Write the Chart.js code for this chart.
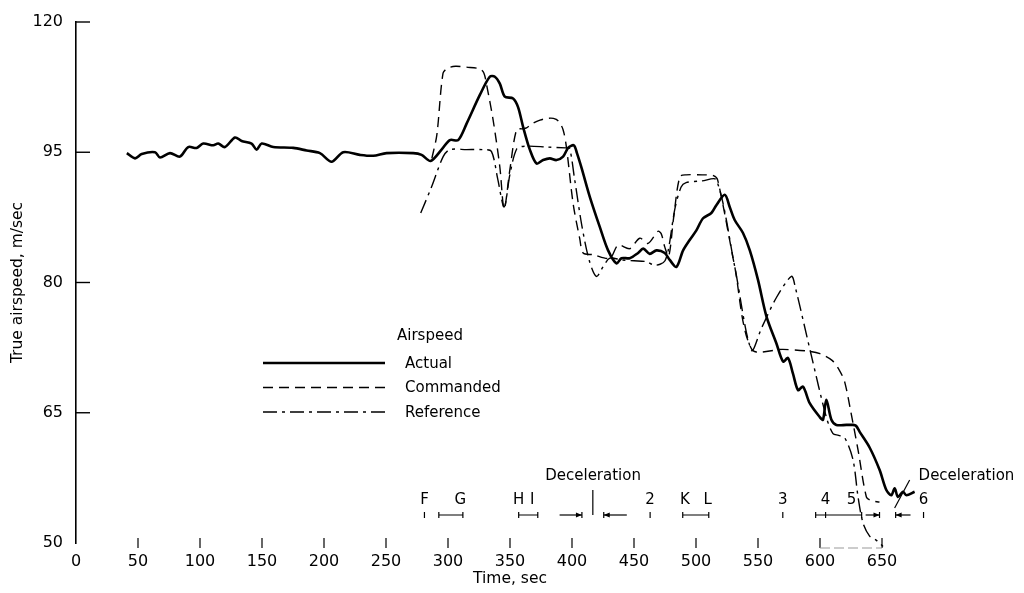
<!DOCTYPE html>
<html>
<head>
<meta charset="utf-8">
<script src="https://cdn.jsdelivr.net/npm/chart.js@4.4.0/dist/chart.umd.min.js"></script>
<style>
html, body { margin: 0; padding: 0; background: #fff; }
</style>
</head>
<body>
<canvas id="myChart" width="1024" height="593"></canvas>
<script>
// time axis in seconds, airspeed in m/sec
var actualTime = [41, 47.6, 53, 63.7, 67.7, 75.8, 83.8, 90.5, 97.3, 102.6, 110.7, 114.7, 120.1, 128.2, 133.6, 141.6, 145.7, 149.7, 159.1, 175.2, 186, 196.7, 206.1, 215.5, 228.9, 239.7, 250.4, 271.9, 278.7, 286, 294.8, 301.5, 308.2, 315, 325.7, 333.7, 337.8, 341.8, 345.8, 352.5, 356.5, 360.6, 366, 371.4, 376.7, 382.1, 387.5, 392.8, 396.9, 401.5, 404, 407.7, 414.3, 422.4, 429.1, 435.9, 439.9, 446.6, 453.3, 457.4, 462.7, 468.1, 474.8, 478.8, 484.2, 489.6, 494.9, 500.3, 505.7, 512.4, 516.4, 523.2, 527.2, 531.2, 537.9, 543.4, 550, 556.8, 564.8, 570.2, 574.2, 578.2, 582.3, 586.3, 591.7, 599.8, 602.4, 605.1, 609.2, 613.2, 621.3, 626.6, 629, 632, 640, 648.1, 653.5, 657.5, 660.2, 662.9, 666.9, 669.6, 676.3];
var actualSpeed = [94.9, 94.3, 94.8, 95.0, 94.4, 94.9, 94.5, 95.6, 95.5, 96.0, 95.8, 96.0, 95.6, 96.7, 96.3, 96.0, 95.3, 96.0, 95.6, 95.5, 95.2, 94.9, 93.9, 95.0, 94.7, 94.6, 94.9, 94.9, 94.7, 94.0, 95.3, 96.4, 96.4, 98.3, 101.6, 103.7, 103.7, 102.9, 101.4, 101.2, 100.2, 97.9, 95.3, 93.7, 94.1, 94.3, 94.1, 94.5, 95.5, 95.8, 94.9, 93.2, 89.9, 86.4, 83.7, 82.2, 82.8, 82.8, 83.4, 83.9, 83.3, 83.7, 83.4, 82.6, 81.8, 83.7, 84.9, 86.0, 87.4, 88.0, 88.9, 90.1, 88.7, 87.2, 85.7, 83.7, 80.3, 76.1, 73.0, 70.9, 71.3, 69.5, 67.6, 68.0, 66.1, 64.5, 64.2, 66.5, 64.2, 63.6, 63.6, 63.6, 63.5, 62.8, 61.0, 58.4, 56.1, 55.5, 56.3, 55.3, 55.9, 55.5, 55.9];

var commandedTime = [287, 291, 296, 300, 306, 315, 325.7, 329, 331.5, 336.4, 341.8, 345.3, 349.9, 355.3, 360, 363.3, 368, 374.2, 380, 385, 389, 392.8, 395.5, 400.9, 406.3, 409, 417, 430.5, 437.2, 446.6, 454.6, 461.3, 469.4, 472, 474.8, 478, 482, 487, 492, 505, 514, 517.5, 531, 545, 570, 590, 600, 610, 616, 620, 625, 630.7, 637.4, 641, 648];
var commandedSpeed = [94.3, 97, 104.1, 104.7, 104.9, 104.8, 104.6, 104.1, 102.5, 98.7, 93.3, 88.5, 93.0, 97.6, 97.7, 97.8, 98.3, 98.7, 98.9, 98.9, 98.6, 97.6, 95.6, 89.1, 85.0, 83.4, 83.2, 82.8, 84.3, 83.9, 85.1, 84.5, 85.9, 85.6, 84.1, 83.0, 87.5, 92.2, 92.4, 92.4, 92.3, 91.8, 82.0, 72.3, 72.3, 72.1, 71.8, 71.0, 69.8, 68.5, 65.0, 60.7, 55.3, 54.9, 54.7];

var referenceTime = [278, 286.7, 296.1, 301.5, 315, 328.3, 335, 340, 345.3, 350, 355.5, 362, 380, 395, 398, 402, 408, 414, 419.7, 425, 430.5, 440, 450, 460, 466, 471, 475, 478, 483, 488, 492, 505, 516.5, 531, 544.7, 553, 565, 577, 580, 593, 605.1, 610.5, 615, 620, 626.6, 630.7, 634.7, 640, 645.5, 650.8];
var referenceSpeed = [88.0, 91.0, 94.5, 95.3, 95.3, 95.3, 95.1, 92.0, 88.7, 92.5, 95.4, 95.7, 95.6, 95.5, 95.5, 92.0, 86.5, 82.5, 80.7, 81.8, 82.8, 82.6, 82.5, 82.4, 82.0, 82.1, 82.5, 84.0, 88.5, 91.0, 91.5, 91.7, 91.8, 82.0, 72.2, 74.8, 78.3, 80.7, 79.5, 71.6, 64.5, 62.6, 62.4, 62.1, 59.6, 55.3, 52.3, 50.8, 50.3, 49.6];

var yTickValues = [50, 65, 80, 95, 110];
var yTickLabels = ['50', '65', '80', '95', '120'];

var eventLabels = ['F', 'G', 'H', 'I', '2', 'K', 'L', '3', '4', '5', '6'];
var eventTimes = [281, 310, 357, 368, 463, 491, 509.5, 570, 604.5, 625.5, 683.5];
var pointMarks = [281, 463, 570, 604.5, 683.5];
var spanStart = [292.6, 357, 489.3, 596.5];
var spanEnd = [312, 372.4, 510.3, 633.6];
var arrowStart = [390, 425.6, 636.8, 661];
var arrowEnd = [408, 444.2, 648, 673];
var arrowDir = ['right', 'left', 'right', 'left'];

function toPoints(xs, ys) {
    return xs.map(function (t, i) { return { x: t, y: ys[i] }; });
}

var FONT = "'DejaVu Sans', sans-serif";

var decor = {
    id: 'decor',
    afterDraw: function (chart) {
        var ctx = chart.ctx;
        var xs = chart.scales.x;
        var ys = chart.scales.y;
        var area = chart.chartArea;
        var bottom = area.bottom;
        ctx.save();
        ctx.strokeStyle = '#000';
        ctx.fillStyle = '#000';

        // y ticks pointing inward
        ctx.lineWidth = 1.4;
        yTickValues.forEach(function (v) {
            if (v === 50) return;
            var y = ys.getPixelForValue(v);
            ctx.beginPath();
            ctx.moveTo(area.left, y);
            ctx.lineTo(area.left + 14, y);
            ctx.stroke();
        });

        // x ticks, short marks above labels
        ctx.lineWidth = 1.2;
        for (var t = 50; t <= 650; t += 50) {
            var x = xs.getPixelForValue(t);
            ctx.beginPath();
            ctx.moveTo(x, bottom - 5);
            ctx.lineTo(x, bottom + 5);
            ctx.stroke();
        }
        ctx.strokeStyle = '#999';
        ctx.setLineDash([10, 4]);
        ctx.beginPath();
        ctx.moveTo(xs.getPixelForValue(600), bottom + 5);
        ctx.lineTo(xs.getPixelForValue(650), bottom + 5);
        ctx.stroke();
        ctx.setLineDash([]);
        ctx.strokeStyle = '#000';

        // legend
        ctx.font = '15px ' + FONT;
        ctx.textBaseline = 'middle';
        ctx.textAlign = 'left';
        ctx.fillText('Airspeed', 397, 336);
        var rows = [['Actual', [], 2.6], ['Commanded', [10, 6], 1.4], ['Reference', [14, 5, 3, 5], 1.4]];
        rows.forEach(function (r, i) {
            var y = 363 + i * 24.5;
            ctx.lineWidth = r[2];
            ctx.setLineDash(r[1]);
            ctx.beginPath();
            ctx.moveTo(263, y);
            ctx.lineTo(385, y);
            ctx.stroke();
            ctx.setLineDash([]);
            ctx.fillText(r[0], 405, y + 1);
        });

        // event markers along the bottom
        var markY = bottom - 28;
        ctx.font = '15px ' + FONT;
        ctx.textAlign = 'center';
        eventLabels.forEach(function (lab, i) {
            ctx.fillText(lab, xs.getPixelForValue(eventTimes[i]), bottom - 43);
        });
        ctx.lineWidth = 1.2;
        pointMarks.forEach(function (t) {
            var x = xs.getPixelForValue(t);
            ctx.beginPath();
            ctx.moveTo(x, markY - 3);
            ctx.lineTo(x, markY + 3);
            ctx.stroke();
        });
        spanStart.forEach(function (s, i) {
            var x1 = xs.getPixelForValue(s), x2 = xs.getPixelForValue(spanEnd[i]);
            ctx.beginPath();
            ctx.moveTo(x1, markY); ctx.lineTo(x2, markY);
            ctx.moveTo(x1, markY - 3); ctx.lineTo(x1, markY + 3);
            ctx.moveTo(x2, markY - 3); ctx.lineTo(x2, markY + 3);
            ctx.stroke();
        });
        arrowStart.forEach(function (s, i) {
            var x1 = xs.getPixelForValue(s), x2 = xs.getPixelForValue(arrowEnd[i]);
            ctx.beginPath();
            ctx.moveTo(x1, markY); ctx.lineTo(x2, markY);
            ctx.stroke();
            var tip = arrowDir[i] === 'right' ? x2 : x1;
            var d = arrowDir[i] === 'right' ? -1 : 1;
            ctx.beginPath();
            ctx.moveTo(tip, markY);
            ctx.lineTo(tip + d * 6, markY - 2.5);
            ctx.lineTo(tip + d * 6, markY + 2.5);
            ctx.closePath();
            ctx.fill();
            ctx.beginPath();
            ctx.moveTo(tip, markY - 3); ctx.lineTo(tip, markY + 3);
            ctx.stroke();
        });
        var vx = xs.getPixelForValue(416.8);
        ctx.beginPath();
        ctx.moveTo(vx, bottom - 53);
        ctx.lineTo(vx, markY);
        ctx.stroke();

        // deceleration notes
        ctx.font = '15px ' + FONT;
        ctx.textAlign = 'center';
        ctx.fillText('Deceleration', xs.getPixelForValue(417), bottom - 67);
        ctx.textAlign = 'left';
        ctx.fillText('Deceleration', xs.getPixelForValue(679.5), bottom - 67);
        ctx.beginPath();
        ctx.moveTo(xs.getPixelForValue(672.3), bottom - 63);
        ctx.lineTo(xs.getPixelForValue(660.2), bottom - 35);
        ctx.stroke();

        ctx.restore();
    }
};

var ctx = document.getElementById('myChart').getContext('2d');

var myChart = new Chart(ctx, {
    type: 'line',
    data: {
        datasets: [{
            label: 'Actual',
            data: toPoints(actualTime, actualSpeed),
            borderColor: '#000',
            borderWidth: 2.6,
            pointRadius: 0,
            tension: 0.3,
            clip: false
        },
        {
            label: 'Commanded',
            data: toPoints(commandedTime, commandedSpeed),
            borderColor: '#000',
            borderWidth: 1.4,
            borderDash: [10, 6],
            pointRadius: 0,
            tension: 0.3,
            clip: false
        },
        {
            label: 'Reference',
            data: toPoints(referenceTime, referenceSpeed),
            borderColor: '#000',
            borderWidth: 1.4,
            borderDash: [14, 5, 3, 5],
            pointRadius: 0,
            tension: 0.3,
            clip: false
        }]
    },
    options: {
        responsive: false,
        animation: false,
        devicePixelRatio: 1,
        layout: { padding: { top: 22, right: 80, bottom: 0, left: 0 } },
        plugins: {
            legend: { display: false },
            tooltip: { enabled: false }
        },
        scales: {
            x: {
                type: 'linear',
                min: 0,
                max: 700,
                afterFit: function (scale) { scale.height = 50; },
                afterBuildTicks: function (scale) {
                    scale.ticks = scale.ticks.filter(function (t) { return t.value <= 650; });
                },
                grid: { display: false },
                border: { display: false },
                ticks: {
                    stepSize: 50,
                    padding: 1,
                    maxRotation: 0,
                    color: '#000',
                    font: { family: FONT, size: 16 }
                },
                title: {
                    display: true,
                    text: 'Time, sec',
                    color: '#000',
                    font: { family: FONT, size: 15.5 },
                    padding: { top: 0, bottom: 5 }
                }
            },
            y: {
                min: 50,
                max: 110,
                afterFit: function (scale) { scale.width = 76; },
                afterBuildTicks: function (scale) {
                    scale.ticks = yTickValues.map(function (v) { return { value: v }; });
                },
                grid: { display: false },
                border: { display: true, color: '#000', width: 1.6 },
                ticks: {
                    padding: 5,
                    color: '#000',
                    font: { family: FONT, size: 16 },
                    callback: function (value) {
                        var i = yTickValues.indexOf(value);
                        return i >= 0 ? yTickLabels[i] : '';
                    }
                },
                title: {
                    display: true,
                    text: 'True airspeed, m/sec',
                    color: '#000',
                    font: { family: FONT, size: 15.5 },
                    padding: { top: 9, bottom: 0 }
                }
            }
        }
    },
    plugins: [decor]
});
</script>
</body>
</html>
